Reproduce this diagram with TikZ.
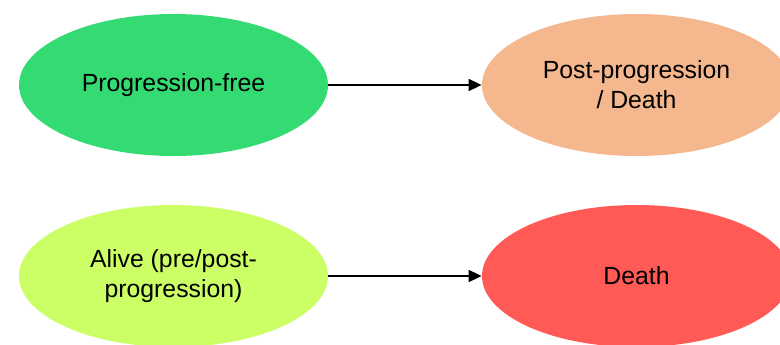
\documentclass[tikz,border=0pt]{standalone}
\usepackage{fontspec}
\setmainfont{Liberation Sans}
\usetikzlibrary{shapes.geometric,arrows.meta}
\definecolor{vertPF}{RGB}{52,219,114}
\definecolor{orangePP}{RGB}{245,183,142}
\definecolor{vertAL}{RGB}{204,255,102}
\definecolor{rougeD}{RGB}{255,90,85}
\begin{document}
\begin{tikzpicture}[x=0.5pt, y=0.5pt,
        etat/.style={ellipse, minimum width=154.5pt, minimum height=71pt, inner sep=0pt, align=center, font=\fontsize{12.4}{15}\selectfont},
        fleche/.style={-{Triangle[length=6.5pt,width=6pt]}, line width=0.9pt}]
        \useasboundingbox (0, 0) rectangle (780, 344);
        % Définition des états du modèle à partition
        \node[etat, fill=vertPF] (PF) at (173.5, 259) {Progression-free};
        \node[etat, fill=orangePP] (PP) at (636.5, 259) {Post-progression\\/ Death};
        
        % Définition des états du modèle alive/death
        \node[etat, fill=vertAL] (AL) at (173.5, 68) {Alive (pre/post-\\progression)};
        \node[etat, fill=rougeD] (DE) at (636.5, 68) {Death};
    
        % Transitions
        \draw[fleche] (PF) -- (PP);
        \draw[fleche] (AL) -- (DE);
    
    \end{tikzpicture}
\end{document}
